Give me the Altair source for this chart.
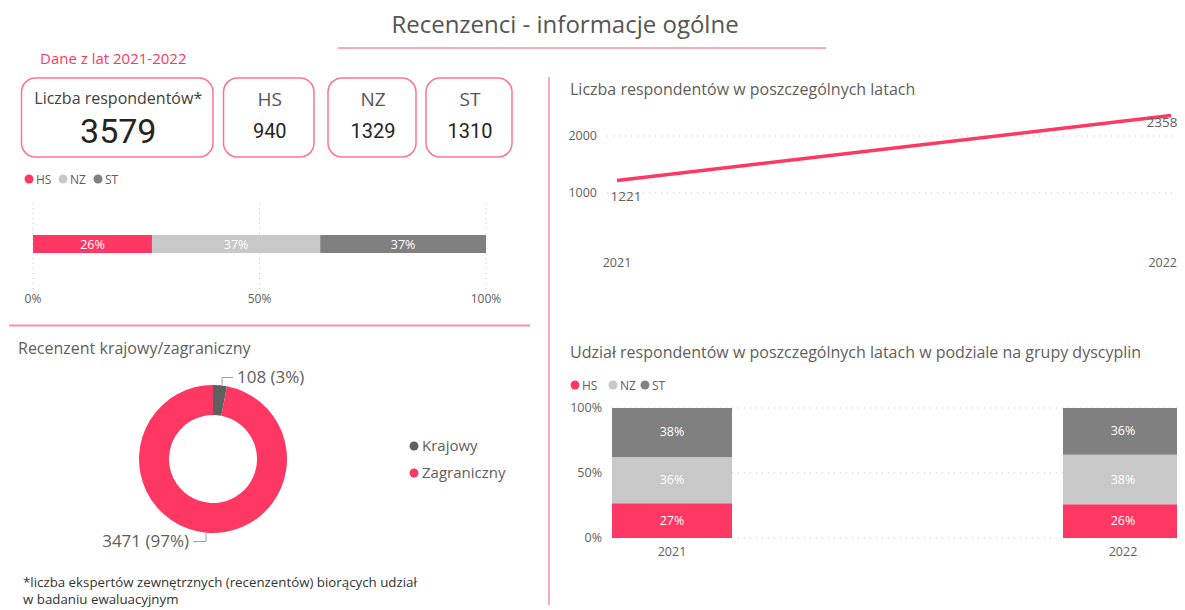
import altair as alt
import pandas as pd

# ---------------- data ----------------
groups = ["HS", "NZ", "ST"]
group_totals = [940, 1329, 1310]
card_labels = ["Liczba respondentów*", "HS", "NZ", "ST"]
card_values = [3579, 940, 1329, 1310]
years = [2021, 2022]
year_totals = [1221, 2358]
hs_by_year = [327, 613]
nz_by_year = [434, 895]
st_by_year = [460, 850]
origins = ["Krajowy", "Zagraniczny"]
origin_counts = [108, 3471]
share_ticks = [0, 0.5, 1]
count_ticks = [1000, 2000]

# ---------------- style ----------------
FONT = "Open Sans"
NUMFONT = "Roboto"
PINK = "#FF3863"
CARD_STROKE = "#FF7590"
DIVIDER = "#FF8DA1"
TXT = "#605E5C"
DARK = "#252423"
group_colors = ["#FF3863", "#C8C8C8", "#808080"]
origin_colors = ["#5F5F5F", "#FF3863"]
GRID = "#C8C8C8"

W, H = 1169, 602
OFF = 8


def px(v):
    return v - OFF


one = pd.DataFrame({"k": [0]})


def text(s, x, y, size, color=TXT, align="left", weight="normal", font=FONT):
    return alt.Chart(one).mark_text(
        text=s, align=align, baseline="middle", fontSize=size, color=color,
        font=font, fontWeight=weight
    ).encode(x=alt.value(px(x)), y=alt.value(px(y)))


def rule(x1, y1, x2, y2, color, width=1.0, dash=None):
    kw = dict(color=color, strokeWidth=width)
    if dash:
        kw["strokeDash"] = dash
    return alt.Chart(one).mark_rule(**kw).encode(
        x=alt.value(px(x1)), y=alt.value(px(y1)), x2=alt.value(px(x2)), y2=alt.value(px(y2))
    )


def card(x1, y1, x2, y2):
    return alt.Chart(one).mark_rect(
        cornerRadius=14, fill="white", stroke=CARD_STROKE, strokeWidth=1.5
    ).encode(x=alt.value(px(x1)), y=alt.value(px(y1)), x2=alt.value(px(x2)), y2=alt.value(px(y2)))


def legend_dot(x, y, color):
    return alt.Chart(one).mark_circle(size=80, color=color, opacity=1).encode(
        x=alt.value(px(x)), y=alt.value(px(y))
    )


layers = []

# ---------------- header & dividers ----------------
layers.append(text("Recenzenci - informacje ogólne", 565, 26, 24, "#555555", align="center"))
layers.append(rule(338, 48, 826, 48, DIVIDER, 1.5))
layers.append(text("Dane z lat 2021-2022", 40, 59, 15, PINK))
layers.append(rule(549, 77, 549, 605, DIVIDER, 1.5))
layers.append(rule(9, 325.5, 530, 325.5, DIVIDER, 2))

# ---------------- KPI cards ----------------
card_df = pd.DataFrame({"label": card_labels, "value": card_values})
card_boxes = [(21.5, 78, 213, 157), (223.5, 78, 314, 157), (328, 78, 416, 157), (426, 78, 512, 157)]
for i, (x1, y1, x2, y2) in enumerate(card_boxes):
    layers.append(card(x1, y1, x2, y2))
    cx = (x1 + x2) / 2 + 1
    lab = card_labels[i]
    big = i == 0
    lbl_layer = alt.Chart(card_df).transform_filter(
        alt.datum.label == lab
    ).mark_text(
        baseline="middle", align="center", font=FONT,
        fontSize=16 if big else 19, color="#404040" if big else "#555555"
    ).encode(x=alt.value(px(cx)), y=alt.value(px(99 if big else 100)), text="label:N")
    val_layer = alt.Chart(card_df).transform_filter(
        alt.datum.label == lab
    ).transform_calculate(
        txt="toString(datum.value)"
    ).mark_text(
        baseline="middle", align="center", font=NUMFONT, fontWeight="normal",
        fontSize=34 if big else 20, color=DARK
    ).encode(x=alt.value(px(cx)), y=alt.value(px(133 if big else 132)), text="txt:N")
    layers += [lbl_layer, val_layer]

# ---------------- legend (left) ----------------
for g, c, dx in zip(groups, group_colors, [29, 63, 98]):
    layers.append(legend_dot(dx, 179, c))
    layers.append(text(g, dx + 7, 179.5, 12, TXT))

# ---------------- 100% horizontal bar ----------------
hx = alt.Scale(domain=[0, 1], range=[px(33), px(486)], nice=False, zero=False)
tick_df = pd.DataFrame({"t": share_ticks})
layers.append(
    alt.Chart(tick_df).mark_rule(color=GRID, strokeDash=[1, 4]).encode(
        x=alt.X("t:Q", scale=hx, axis=None), y=alt.value(px(203)), y2=alt.value(px(289))
    )
)
layers.append(
    alt.Chart(tick_df).transform_calculate(lbl="format(datum.t, '.0%')").mark_text(
        font=FONT, fontSize=12, color=TXT, baseline="middle"
    ).encode(x=alt.X("t:Q", scale=hx, axis=None), y=alt.value(px(299)), text="lbl:N")
)
hdf = pd.DataFrame({"group": groups, "value": group_totals, "rank": list(range(len(groups)))})
hbase = alt.Chart(hdf).transform_joinaggregate(total="sum(value)").transform_window(
    cum="sum(value)", sort=[alt.SortField("rank")], frame=[None, 0]
).transform_calculate(
    start="(datum.cum - datum.value) / datum.total",
    end="datum.cum / datum.total",
    mid="(datum.cum - datum.value / 2) / datum.total",
    pct="format(datum.value / datum.total, '.0%')",
)
layers.append(
    hbase.mark_rect().encode(
        x=alt.X("start:Q", scale=hx, axis=None), x2="end:Q",
        y=alt.value(px(235)), y2=alt.value(px(253)),
        color=alt.Color("group:N", scale=alt.Scale(domain=groups, range=group_colors), legend=None),
    )
)
layers.append(
    hbase.mark_text(font=FONT, fontSize=12.5, color="white", baseline="middle").encode(
        x=alt.X("mid:Q", scale=hx, axis=None), y=alt.value(px(244.5)), text="pct:N"
    )
)

# ---------------- donut ----------------
layers.append(text("Recenzent krajowy/zagraniczny", 18, 349, 16, TXT))
ddf = pd.DataFrame({"origin": origins, "count": origin_counts, "rank": [0, 1]})
dbase = alt.Chart(ddf).transform_joinaggregate(total="sum(count)").transform_calculate(
    lbl="toString(datum.count) + ' (' + format(datum.count / datum.total, '.0%') + ')'"
)
layers.append(
    dbase.mark_arc(innerRadius=44, outerRadius=74).encode(
        theta=alt.Theta("count:Q", stack=True),
        color=alt.Color("origin:N", scale=alt.Scale(domain=origins, range=origin_colors), legend=None),
        order=alt.Order("rank:Q"),
        x=alt.value(px(213)), y=alt.value(px(459)),
    )
)
layers.append(rule(222, 385, 222, 377.5, "#A0A0A0", 1))
layers.append(rule(222, 377.5, 233, 377.5, "#A0A0A0", 1))
layers.append(rule(193, 541.5, 206, 541.5, "#A0A0A0", 1))
layers.append(rule(206, 541.5, 206, 533, "#A0A0A0", 1))
layers.append(
    dbase.transform_filter(alt.datum.origin == origins[0]).mark_text(
        font=FONT, fontSize=17, color=TXT, align="left", baseline="middle"
    ).encode(x=alt.value(px(237)), y=alt.value(px(378)), text="lbl:N")
)
layers.append(
    dbase.transform_filter(alt.datum.origin == origins[1]).mark_text(
        font=FONT, fontSize=17, color=TXT, align="right", baseline="middle"
    ).encode(x=alt.value(px(189)), y=alt.value(px(542)), text="lbl:N")
)
for o, c, yy in zip(origins, origin_colors, [446, 473]):
    layers.append(legend_dot(414, yy, c))
    layers.append(text(o, 422, yy, 15, TXT))

# footnote
layers.append(text("*liczba ekspertów zewnętrznych (recenzentów) biorących udział", 23, 583, 13.3, "#333333"))
layers.append(text("w badaniu ewaluacyjnym", 23, 600, 13.3, "#333333"))

# ---------------- line chart ----------------
layers.append(text("Liczba respondentów w poszczególnych latach", 570, 90, 16, TXT))
lx = alt.Scale(domain=[years[0], years[-1]], range=[px(617), px(1171)], nice=False, zero=False)
ly = alt.Scale(domain=[0, 2000], range=[px(250), px(136)], nice=False, zero=False)
ctick_df = pd.DataFrame({"t": count_ticks})
layers.append(
    alt.Chart(ctick_df).mark_rule(color=GRID, strokeDash=[1, 5]).encode(
        x=alt.value(px(607)), x2=alt.value(px(1185)), y=alt.Y("t:Q", scale=ly, axis=None)
    )
)
layers.append(
    alt.Chart(ctick_df).transform_calculate(lbl="toString(datum.t)").mark_text(
        font=FONT, fontSize=12.5, color=TXT, align="right", baseline="middle"
    ).encode(x=alt.value(px(597)), y=alt.Y("t:Q", scale=ly, axis=None), text="lbl:N")
)
ldf = pd.DataFrame({"year": years, "count": year_totals})
lbase = alt.Chart(ldf).transform_calculate(lbl="toString(datum.count)", ylbl="toString(datum.year)")
layers.append(
    lbase.transform_filter(alt.datum.year == years[0]).mark_text(
        font=FONT, fontSize=12.5, color=TXT, baseline="middle"
    ).encode(x=alt.X("year:Q", scale=lx, axis=None), y=alt.value(px(263)), text="ylbl:N")
)
layers.append(
    lbase.transform_filter(alt.datum.year == years[-1]).mark_text(
        font=FONT, fontSize=12.5, color=TXT, baseline="middle", align="right", dx=6
    ).encode(x=alt.X("year:Q", scale=lx, axis=None), y=alt.value(px(263)), text="ylbl:N")
)
layers.append(
    lbase.mark_line(color=PINK, strokeWidth=3.5).encode(
        x=alt.X("year:Q", scale=lx, axis=None), y=alt.Y("count:Q", scale=ly, axis=None)
    )
)
layers.append(
    lbase.transform_filter(alt.datum.year == years[0]).mark_text(
        font=FONT, fontSize=13.5, color=TXT, baseline="middle", dx=9, dy=17
    ).encode(x=alt.X("year:Q", scale=lx, axis=None), y=alt.Y("count:Q", scale=ly, axis=None), text="lbl:N")
)
layers.append(
    lbase.transform_filter(alt.datum.year == years[-1]).mark_text(
        font=FONT, fontSize=13.5, color=TXT, baseline="middle", dx=-9, dy=7
    ).encode(x=alt.X("year:Q", scale=lx, axis=None), y=alt.Y("count:Q", scale=ly, axis=None), text="lbl:N")
)

# ---------------- stacked 100% columns ----------------
layers.append(text("Udział respondentów w poszczególnych latach w podziale na grupy dyscyplin", 570, 353, 16, TXT))
for g, c, dx in zip(groups, group_colors, [575, 613, 645]):
    layers.append(legend_dot(dx, 385, c))
    layers.append(text(g, dx + 7, 385.5, 12, TXT))

sx = alt.Scale(domain=[years[0], years[-1]], range=[px(672), px(1123)], nice=False, zero=False, padding=0)
sy = alt.Scale(domain=[0, 1], range=[px(538), px(408)], nice=False, zero=False)
layers.append(
    alt.Chart(tick_df).mark_rule(color=GRID, strokeDash=[1, 5]).encode(
        x=alt.value(px(612)), x2=alt.value(px(1183)), y=alt.Y("t:Q", scale=sy, axis=None)
    )
)
layers.append(
    alt.Chart(tick_df).transform_calculate(lbl="format(datum.t, '.0%')").mark_text(
        font=FONT, fontSize=12.5, color=TXT, align="right", baseline="middle"
    ).encode(x=alt.value(px(602)), y=alt.Y("t:Q", scale=sy, axis=None), text="lbl:N")
)
rows = []
for gi, (g, vals) in enumerate(zip(groups, [hs_by_year, nz_by_year, st_by_year])):
    for yv, v in zip(years, vals):
        rows.append({"year": yv, "group": g, "count": v, "rank": gi})
sdf = pd.DataFrame(rows)
sbase = alt.Chart(sdf).transform_joinaggregate(total="sum(count)", groupby=["year"]).transform_window(
    cum="sum(count)", sort=[alt.SortField("rank")], groupby=["year"], frame=[None, 0]
).transform_calculate(
    y0="(datum.cum - datum.count) / datum.total",
    y1="datum.cum / datum.total",
    mid="(datum.cum - datum.count / 2) / datum.total",
    pct="format(datum.count / datum.total, '.0%')",
    ylbl="toString(datum.year)",
)
layers.append(
    sbase.mark_bar(size=120).encode(
        x=alt.X("year:Q", scale=sx, axis=None),
        y=alt.Y("y0:Q", scale=sy, axis=None, stack=None), y2="y1:Q",
        color=alt.Color("group:N", scale=alt.Scale(domain=groups, range=group_colors), legend=None),
    )
)
layers.append(
    sbase.mark_text(font=FONT, fontSize=12.5, color="white", baseline="middle").encode(
        x=alt.X("year:Q", scale=sx, axis=None),
        y=alt.Y("mid:Q", scale=sy, axis=None, stack=None), text="pct:N"
    )
)
layers.append(
    sbase.transform_filter(alt.datum.group == groups[0]).mark_text(
        font=FONT, fontSize=12.5, color=TXT, baseline="middle"
    ).encode(x=alt.X("year:Q", scale=sx, axis=None), y=alt.value(px(552)), text="ylbl:N")
)

chart = alt.layer(*layers).resolve_scale(
    x="independent", y="independent", color="independent"
).properties(
    width=W, height=H, autosize=alt.AutoSizeParams(type="none"), padding=0
).configure_view(stroke=None)

chart.save("out.html", embed_options={"renderer": "svg", "actions": False})
